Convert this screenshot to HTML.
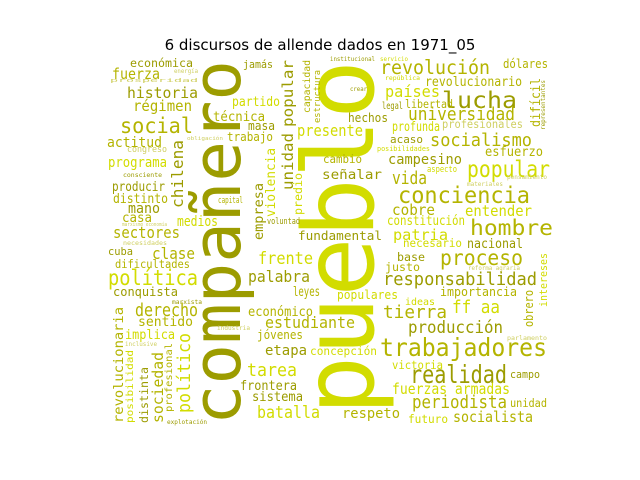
<!DOCTYPE html>
<html><head><meta charset="utf-8"><style>
html,body{margin:0;padding:0;background:#fff;}
svg{display:block;}
text{font-family:"DejaVu Sans Mono","Liberation Mono",monospace;}
</style></head><body>
<svg id="chart" width="640" height="480" viewBox="0 0 640 480" xmlns="http://www.w3.org/2000/svg">
<rect width="640" height="480" fill="#fff"/>
<text x="320" y="50" text-anchor="middle" font-size="15" fill="#000" style="font-family:'DejaVu Sans','Liberation Sans',sans-serif">6 discursos de allende dados en 1971_05</text>
<g id="cloud"></g>
</svg>
<script>
const words = ["compañero","pueblo","económica","fuerza","historia","régimen","social","actitud","congreso","programa","consciente","producir","distinto","mano","casa","marxismo economía","sectores","chilena","medios","jamás","energía","prosperidad","partido","técnica","masa","trabajo","obligación","popular","unidad","violencia","empresa","capital","voluntad","capacidad","estructura","presente","predio","fundamental","señalar","cambio","institucional","servicio","revolución","dólares","república","revolucionario","países","lucha","difícil","representantes","crear","legal","libertad","universidad","hechos","profunda","profesionales","socialismo","acaso","esfuerzo","posibilidades","campesino","popular","aspecto","vida","conciencia","cobre","entender","constitución","hombre","patria","pensamiento","materiales","necesidades","cuba","clase","dificultades","política","conquista","marxista","derecho","sentido","implica","inclusive","revolucionaria","posibilidad","distinta","sociedad","profesional","político","explotación","frente","palabra","leyes","económico","estudiante","jóvenes","etapa","concepción","tarea","frontera","sistema","batalla","industria","necesario","nacional","base","proceso","justo","reforma agraria","intereses","responsabilidad","populares","importancia","ideas","ff aa","obrero","tierra","producción","trabajadores","parlamento","victoria","realidad","campo","fuerzas armadas","periodista","unidad","respeto","futuro","socialista"];
const colors = ["d","b","d","m","d","m","m","m","l","b","d","d","m","d","m","l","m","d","b","d","l","l","b","m","d","m","l","d","d","b","d","m","d","m","m","b","b","d","d","m","d","b","m","m","b","m","b","d","m","d","d","d","m","m","d","b","l","m","d","m","b","d","b","b","m","m","m","b","b","m","b","l","l","l","d","m","m","b","d","d","m","m","b","l","m","b","d","m","m","b","d","b","d","m","m","m","m","d","b","b","d","d","b","l","b","d","d","m","m","l","b","d","b","m","b","b","m","m","d","m","l","b","d","d","b","m","m","m","b","m"];
const palette = {d:"#9c9c00", m:"#b4b400", b:"#d2dc00", l:"#cfcf60"};
const layout = [
[240,425,67,365,1],[373,415,98,355,1],[130,67,13,63,0],[112,79,17,48,0],[127,98,17,71,0],[133,111,17,59,0],[120,133,24,73,0],[107,147,16,55,0],[127,152,10,40,0],[108,167,16,59,0],[123,177,7,39,0],[112,191,15,53,0],[113,203,15,55,0],[128,213,16,32,0],[122,222,15,30,0],[122,226,6,45,0],[113,238,18,67,0],[183,208,18,68,1],[177,226,16,41,0],[243,68,12,30,0],[174,73,7,24,0],[110,82,6,88,0],[232,106,15,48,0],[213,121,15,52,0],[248,130,14,27,0],[227,141,14,46,0],[187,140,6,36,0],[293,127,17,67,1],[293,190,17,57,1],[275,217,15,69,1],[263,240,15,57,1],[218,203,10,25,0],[267,224,10,33,0],[310,113,11,53,1],[320,123,10,53,1],[297,136,18,66,0],[302,215,13,42,1],[298,240,14,84,0],[322,179,15,60,0],[323,163,13,39,0],
[330,61,7,45,0],[380,61,7,28,0],[380,74,22,110,0],[503,68,14,45,0],[385,80,7,35,0],[425,86,15,97,0],[385,97,18,55,0],[442,108,26,75,0],[540,127,15,49,1],[545,130,7,50,1],[350,91,7,17,0],[382,109,11,21,0],[405,108,13,48,0],[408,120,20,107,0],[348,122,14,40,0],[392,131,15,48,0],[442,128,13,81,0],[430,146,20,102,0],[390,143,12,33,0],[485,156,15,58,0],[377,151,8,53,0],[388,164,16,74,0],[467,177,26,83,0],[427,172,10,30,0],[392,184,20,35,0],[398,203,26,132,0],[392,215,17,43,0],[465,216,17,67,0],[387,225,15,78,0],[470,235,24,83,0],[393,240,17,55,0],[507,179,7,40,0],[467,186,7,36,0],
[123,245,7,44,0],[108,255,12,25,0],[152,259,18,43,0],[115,268,13,75,0],[108,285,24,90,0],[113,296,14,65,0],[172,304,7,30,0],[135,316,20,63,0],[138,326,15,55,0],[125,339,15,50,0],[125,346,7,32,0],[123,423,15,116,1],[133,423,11,73,1],[148,423,13,56,1],[163,423,17,71,1],[172,412,11,69,1],[190,413,20,80,1],[167,424,7,40,0],[258,264,19,55,0],[248,282,18,62,0],[293,296,15,27,0],[248,316,15,65,0],[265,328,18,90,0],[257,339,14,46,0],[265,355,16,42,0],[310,355,13,67,0],[247,376,20,50,0],[240,390,15,57,0],[252,401,15,51,0],[257,418,19,63,0],[217,330,7,33,0],
[403,247,13,59,0],[467,248,15,56,0],[397,261,13,28,0],[440,265,24,83,0],[385,271,13,35,0],[468,270,7,52,0],[547,307,12,54,1],[383,285,20,154,0],[337,299,14,61,0],[440,296,14,77,0],[405,305,11,30,0],[452,313,20,48,0],[533,327,14,37,1],[383,318,20,64,0],[408,333,19,95,0],[380,356,28,167,0],[507,340,7,40,0],[392,369,13,51,0],[410,383,28,97,0],[510,378,12,30,0],[392,394,17,118,0],[412,408,20,95,0],[510,407,13,37,0],[342,418,16,58,0],[408,423,13,40,0],[453,422,17,80,0]
];
const g = document.getElementById('cloud');
const NS = "http://www.w3.org/2000/svg";
for (let i = 0; i < words.length; i++) {
  const L = layout[i];
  const t = document.createElementNS(NS, 'text');
  
  
  const fs = L[2] >= 60 ? L[2] : L[2] * 0.88;
  t.setAttribute('font-size', fs.toFixed(1));
  t.setAttribute('fill', palette[colors[i]] || palette.m);
  t.setAttribute('textLength', L[3]);
  t.setAttribute('lengthAdjust', 'spacingAndGlyphs');
  if (L[4]) {
    t.setAttribute('transform', 'translate(' + L[0] + ',' + L[1] + ') rotate(-90)');
    t.setAttribute('x', 0); t.setAttribute('y', 0);
  } else {
    t.setAttribute('x', L[0]); t.setAttribute('y', L[1]);
  }
  t.textContent = words[i];
  g.appendChild(t);
}
</script>
</body></html>
